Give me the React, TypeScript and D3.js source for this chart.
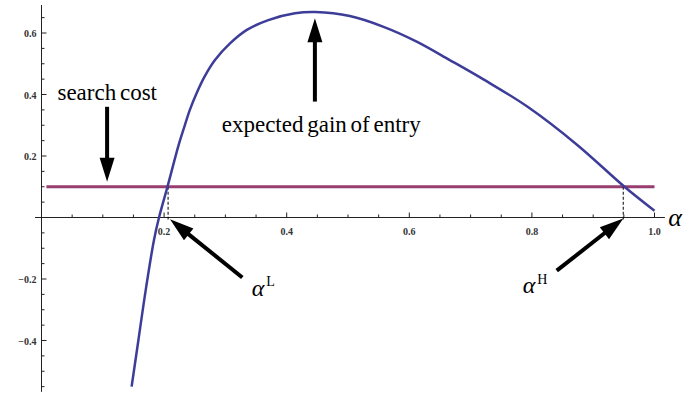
import React from "react";
import * as d3 from "d3";

const width = 689;
const height = 396;

// expected gain of entry
const alphaVals = [0.147, 0.158, 0.17, 0.1835, 0.1917, 0.2055, 0.224, 0.233, 0.242, 0.253, 0.266, 0.283, 0.3075, 0.335, 0.37, 0.4135, 0.447, 0.503, 0.558, 0.612, 0.666, 0.721, 0.793, 0.874, 0.951, 1.0];
const gainVals = [-0.55, -0.4, -0.236, -0.073, 0, 0.1, 0.238, 0.295, 0.35, 0.404, 0.458, 0.512, 0.566, 0.61, 0.642, 0.664, 0.668, 0.655, 0.62, 0.572, 0.512, 0.449, 0.36, 0.236, 0.1, 0.022];

const searchCost = 0.1;
const costFrom = 0.008;
const costTo = 1.0;
const alphaL = 0.2065;
const alphaH = 0.949;

const xMajor = [0.2, 0.4, 0.6, 0.8, 1.0];
const xLabels = ["0.2", "0.4", "0.6", "0.8", "1.0"];
const yMajor = [-0.4, -0.2, 0.2, 0.4, 0.6];
const yLabels = ["\u22120.4", "\u22120.2", "0.2", "0.4", "0.6"];

const x = d3.scaleLinear().domain([0, 1]).range([41.5, 654.5]);
const y = d3.scaleLinear().domain([0, 0.6]).range([217.5, 33]);

const blue = "#3d3d99";
const purple = "#993d71";
const serif = "Liberation Serif, DejaVu Serif, serif";

// arrow from (x1,y1) tail to (x2,y2) tip, pixel space
const Arrow = ({ x1, y1, x2, y2 }: { x1: number; y1: number; x2: number; y2: number }) => {
    const len = Math.hypot(x2 - x1, y2 - y1);
    const ux = (x2 - x1) / len;
    const uy = (y2 - y1) / len;
    const headLen = 24;
    const half = 7.5;
    const bx = x2 - ux * headLen;
    const by = y2 - uy * headLen;
    const pts = [
        [x2, y2],
        [bx - uy * half, by + ux * half],
        [bx + uy * half, by - ux * half],
    ];
    return (
        <g>
            <line x1={x1} y1={y1} x2={bx + ux * 2} y2={by + uy * 2} stroke="black" strokeWidth={4} />
            <polygon points={pts.map(p => p.join(",")).join(" ")} fill="black" />
        </g>
    );
};

const App = () => {
    const pts: [number, number][] = alphaVals.map((a, i) => [x(a), y(gainVals[i])]);
    const gainLine = d3.line().curve(d3.curveCatmullRom.alpha(0.5))(pts) || "";

    const xMinor = d3.range(1, 21).map(i => i * 0.05).filter(v => !xMajor.some(m => Math.abs(m - v) < 1e-6));
    const yMinor = d3.range(-11, 14).map(i => i * 0.05).filter(v => Math.abs(v) > 1e-6 && !yMajor.some(m => Math.abs(m - v) < 1e-6));

    const tickStyle = { fontFamily: serif, fontWeight: "bold" as const, fontSize: 10 };
    const textStyle = { fontFamily: serif, fontSize: 23, wordSpacing: -2 };

    return (
        <div style={{ position: "absolute", left: 0, top: 0 }}>
            <svg width={width} height={height} style={{ display: "block", background: "white" }}>
                {/* axes */}
                <line x1={x(-0.0106)} x2={x(1.017)} y1={y(0)} y2={y(0)} stroke="#222" strokeWidth={1} />
                <line x1={x(0)} x2={x(0)} y1={y(0.691)} y2={y(-0.567)} stroke="#222" strokeWidth={1} />
                {xMinor.map(v => (
                    <line key={"xm" + v} x1={x(v)} x2={x(v)} y1={y(0)} y2={y(0) - 3} stroke="#222" />
                ))}
                {xMajor.map((v, i) => (
                    <g key={"xM" + v}>
                        <line x1={x(v)} x2={x(v)} y1={y(0)} y2={y(0) - 5} stroke="#222" />
                        <text x={x(v)} y={y(0) + 17} textAnchor="middle" style={tickStyle} fill="#333">{xLabels[i]}</text>
                    </g>
                ))}
                {yMinor.map(v => (
                    <line key={"ym" + v} x1={x(0)} x2={x(0) + 3} y1={y(v)} y2={y(v)} stroke="#222" />
                ))}
                {yMajor.map((v, i) => (
                    <g key={"yM" + v}>
                        <line x1={x(0)} x2={x(0) + 5} y1={y(v)} y2={y(v)} stroke="#222" />
                        <text x={x(0) - 5} y={y(v) + 4} textAnchor="end" style={tickStyle} fill="#333">{yLabels[i]}</text>
                    </g>
                ))}

                {/* search cost */}
                <line x1={x(costFrom)} x2={x(costTo)} y1={y(searchCost)} y2={y(searchCost)} stroke={purple} strokeWidth={3} />

                {/* dashed drop lines */}
                <line x1={x(alphaL)} x2={x(alphaL)} y1={y(searchCost)} y2={y(0) + 2} stroke="black" strokeWidth={1} strokeDasharray="3,2" />
                <line x1={x(alphaH)} x2={x(alphaH)} y1={y(searchCost)} y2={y(0) + 2} stroke="black" strokeWidth={1} strokeDasharray="3,2" />

                {/* expected gain */}
                <path d={gainLine} fill="none" stroke={blue} strokeWidth={2.5} />

                {/* annotations */}
                <text x={x(0.026)} y={y(0.382)} style={textStyle} fill="black">search cost</text>
                <Arrow x1={x(0.107)} y1={y(0.36)} x2={x(0.107)} y2={y(0.116)} />

                <text x={x(0.294)} y={y(0.277)} style={textStyle} fill="black">expected gain of entry</text>
                <Arrow x1={x(0.446)} y1={y(0.377)} x2={x(0.446)} y2={y(0.648)} />

                <Arrow x1={x(0.3276)} y1={y(-0.195)} x2={x(0.2096)} y2={y(-0.006)} />
                <text x={x(0.343)} y={y(-0.255)} style={{ fontFamily: serif, fontSize: 24 }} fill="black">
                    <tspan fontStyle="italic">{"\u03b1"}</tspan>
                    <tspan fontSize={14} dx={2} dy={-10}>L</tspan>
                </text>

                <Arrow x1={x(0.8405)} y1={y(-0.173)} x2={x(0.9491)} y2={y(-0.003)} />
                <text x={x(0.785)} y={y(-0.246)} style={{ fontFamily: serif, fontSize: 24 }} fill="black">
                    <tspan fontStyle="italic">{"\u03b1"}</tspan>
                    <tspan fontSize={14} dx={2} dy={-9}>H</tspan>
                </text>

                <text x={x(1.0223)} y={y(-0.028)} style={{ fontFamily: serif, fontStyle: "italic", fontSize: 26 }} fill="black">{"\u03b1"}</text>
            </svg>
        </div>
    );
};

export default App;
